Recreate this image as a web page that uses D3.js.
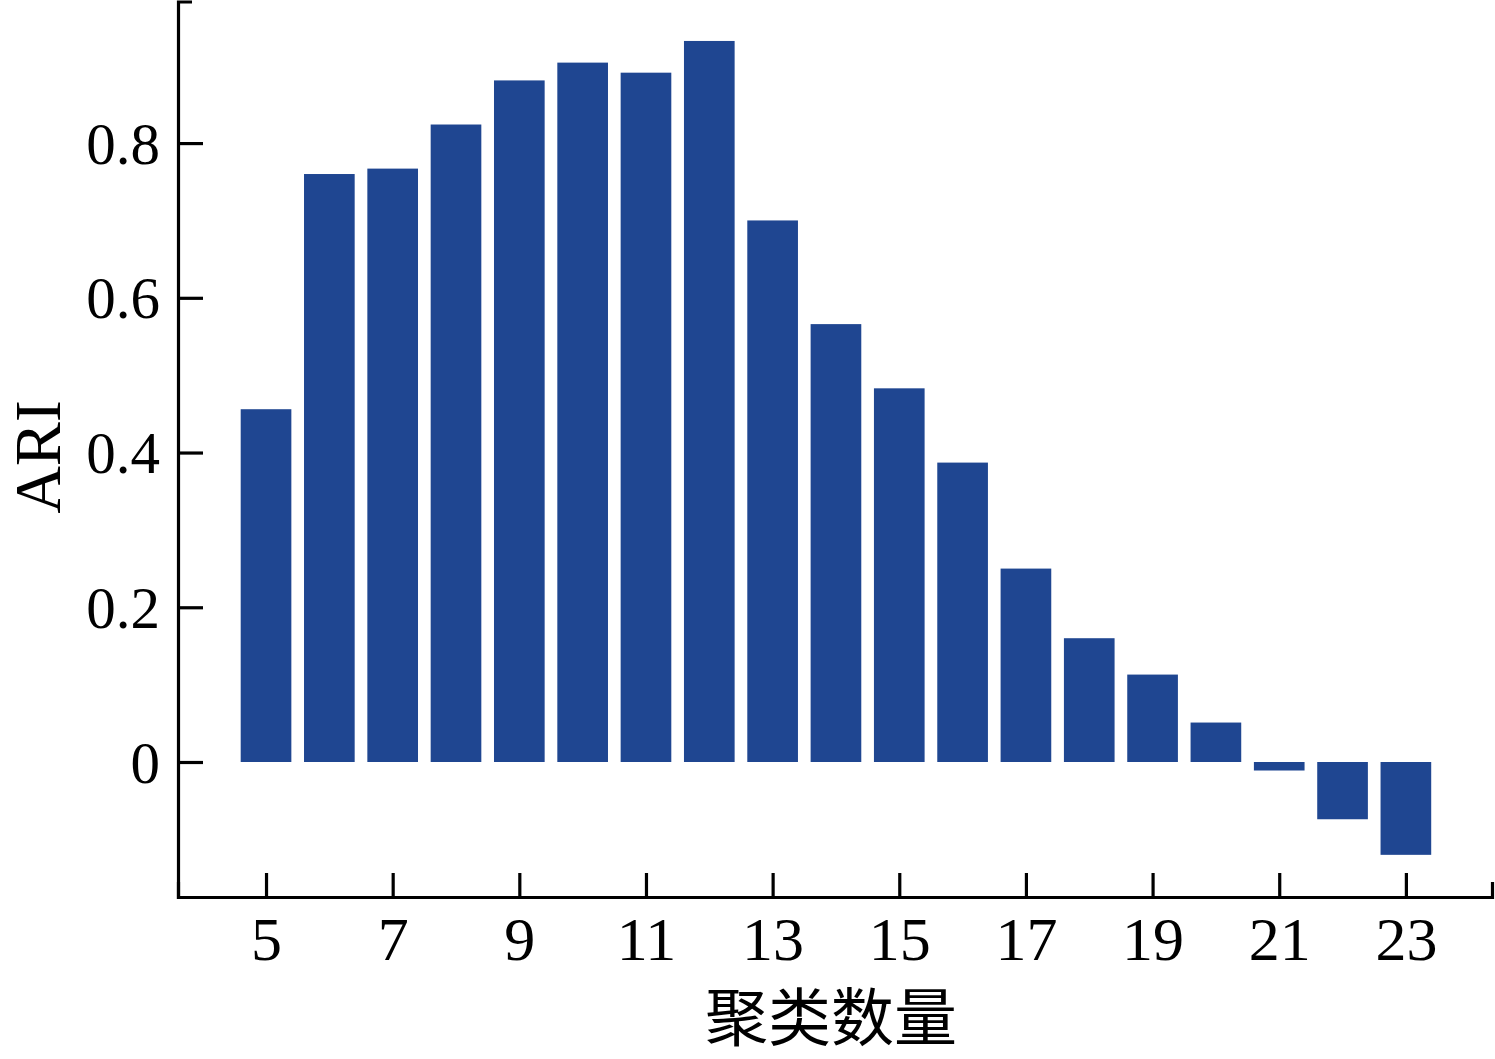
<!DOCTYPE html>
<html>
<head>
<meta charset="utf-8">
<script src="https://cdn.jsdelivr.net/npm/d3@7"></script>
<style>
  body { margin: 0; background: #fff; }
  .axis path, .axis line { stroke: #000; stroke-width: 3.2; }
  .axis text { font-family: 'Liberation Serif', 'Times New Roman', serif; fill: #000; }
</style>
</head>
<body>
<div id="chart"></div>
<script>
// cluster counts and ARI values
const clusters = [5, 6, 7, 8, 9, 10, 11, 12, 13, 14, 15, 16, 17, 18, 19, 20, 21, 22, 23];
const ari = [0.456, 0.760, 0.767, 0.824, 0.881, 0.904, 0.891, 0.932, 0.700, 0.566,
  0.483, 0.387, 0.250, 0.160, 0.113, 0.051, -0.011, -0.074, -0.120];
const xTicks = [5, 7, 9, 11, 13, 15, 17, 19, 21, 23];
const yTicks = [0, 0.2, 0.4, 0.6, 0.8];
const xLabel = '聚类数量';
const yLabel = 'ARI';

const W = 1495;
const H = 1059;
const barColor = '#1F4691';

const xScale = d3.scaleLinear()
  .domain([3.61, 24.36])
  .range([178, 1492]);

const yScale = d3.scaleLinear()
  .domain([-0.1745, 0.983])
  .range([897, 1.5]);

const svg = d3.select('#chart').append('svg')
  .attr('width', W)
  .attr('height', H);

const data = clusters.map((c, i) => ({ c, v: ari[i] }));

// bars
const barHalf = 0.4;
svg.append('g')
  .selectAll('rect')
  .data(data)
  .enter().append('rect')
  .attr('x', d => xScale(d.c - barHalf))
  .attr('width', d => xScale(d.c + barHalf) - xScale(d.c - barHalf))
  .attr('y', d => yScale(Math.max(0, d.v)))
  .attr('height', d => Math.abs(yScale(d.v) - yScale(0)))
  .attr('fill', barColor);

// axes, ticks point inward
const xAxis = d3.axisBottom(xScale)
  .tickValues(xTicks)
  .tickFormat(d3.format('d'))
  .tickSizeInner(-24)
  .tickSizeOuter(-15);

const yAxis = d3.axisLeft(yScale)
  .tickValues(yTicks)
  .tickFormat(d => (d === 0 ? '0' : d3.format('.1f')(d)))
  .tickSizeInner(-25)
  .tickSizeOuter(-14)
  .tickPadding(18);

const gx = svg.append('g')
  .attr('class', 'axis x')
  .attr('transform', 'translate(0,897)')
  .call(xAxis);
gx.selectAll('text')
  .attr('y', 63)
  .attr('dy', 0)
  .style('font-size', '62px');

const gy = svg.append('g')
  .attr('class', 'axis y')
  .attr('transform', 'translate(178,0)')
  .call(yAxis);
gy.selectAll('text')
  .attr('dy', '0.34em')
  .style('font-size', '59px');

gx.select('.domain').attr('fill', 'none');
gy.select('.domain').attr('fill', 'none');

// axis titles
svg.append('text')
  .attr('transform', 'translate(60,457) rotate(-90)')
  .attr('text-anchor', 'middle')
  .style('font-family', "'Liberation Serif', 'Times New Roman', serif")
  .style('font-size', '66px')
  .text(yLabel);

svg.append('text')
  .attr('x', 831)
  .attr('y', 1040)
  .attr('text-anchor', 'middle')
  .style('font-family', "'Noto Sans CJK SC', sans-serif")
  .style('font-size', '63px')
  .text(xLabel);
</script>
</body>
</html>
